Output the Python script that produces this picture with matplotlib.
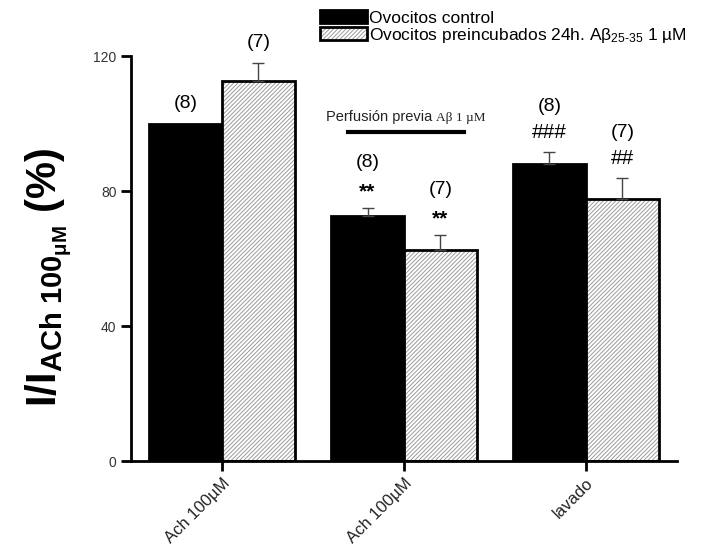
import numpy as np
import matplotlib.pyplot as plt
from matplotlib.patches import Patch
from matplotlib.offsetbox import TextArea, HPacker, AnnotationBbox

plt.rcParams['font.family'] = 'Liberation Sans'
plt.rcParams['mathtext.fontset'] = 'custom'
plt.rcParams['mathtext.rm'] = 'Liberation Sans'
plt.rcParams['mathtext.bf'] = 'Liberation Sans:bold'
plt.rcParams['mathtext.it'] = 'Liberation Sans:italic'
plt.rcParams['hatch.linewidth'] = 0.7

# Data: mean response (% of ACh 100 uM) and SEM
groups = ['Ach 100µM', 'Ach 100µM', 'lavado']
control_mean = [100.0, 72.5, 88.0]
control_sem = [0.0, 2.5, 3.5]
preinc_mean = [112.5, 62.5, 77.5]
preinc_sem = [5.4, 4.5, 6.3]
control_n = ['(8)', '(8)', '(8)']
preinc_n = ['(7)', '(7)', '(7)']
control_sig = ['', '**', '###']
preinc_sig = ['', '**', '##']

x = np.arange(len(groups))
w = 0.4
hatch_col = '#9a9a9a'

fig = plt.figure(figsize=(7.08, 5.59), dpi=100)
ax = fig.add_axes([0.185, 0.1753, 0.771, 0.7245])

# control bars
ax.bar(x - w / 2, control_mean, w, color='black', edgecolor='black', linewidth=2)
# pre-incubated bars: gray hatching with a separate black outline
ax.bar(x + w / 2, preinc_mean, w, color='white', edgecolor=hatch_col,
       hatch='////////', linewidth=0)
ax.bar(x + w / 2, preinc_mean, w, color='none', edgecolor='black', linewidth=2)

# upper error bars only
for xs, m, s in [(x - w / 2, control_mean, control_sem), (x + w / 2, preinc_mean, preinc_sem)]:
    for xi, mi, si in zip(xs, m, s):
        if si > 0:
            ax.errorbar(xi, mi, yerr=[[0], [si]], fmt='none', ecolor='#444444',
                        elinewidth=1, capsize=4, capthick=1)

# n and significance labels above bars
for xs, m, s, ns, sig in [(x - w / 2, control_mean, control_sem, control_n, control_sig),
                          (x + w / 2, preinc_mean, preinc_sem, preinc_n, preinc_sig)]:
    for xi, mi, si, ni, gi in zip(xs, m, s, ns, sig):
        top = mi + si
        if gi:
            star = '*' in gi
            ax.text(xi, top + (2.0 if star else 3.0), gi, ha='center', va='bottom',
                    fontsize=15, fontweight='bold' if star else 'normal')
            ax.text(xi, top + 11.0, ni, ha='center', va='bottom', fontsize=14)
        else:
            ax.text(xi, top + 3.5, ni, ha='center', va='bottom', fontsize=14)

# bracket over the pre-perfusion group
ax.plot([0.69, 1.33], [97.5, 97.5], color='black', lw=3, clip_on=False)
perf = HPacker(children=[TextArea('Perfusión previa',
                                  textprops=dict(fontsize=10.5, color='#222222')),
                         TextArea('Aβ 1 µM',
                                  textprops=dict(fontsize=9.5, color='#222222',
                                                 family='Liberation Serif'))],
               align='baseline', pad=0, sep=3)
ax.add_artist(AnnotationBbox(perf, (1.01, 100.0), frameon=False,
                             box_alignment=(0.5, 0.0), annotation_clip=False))

ax.set_xlim(-0.5, 2.5)
ax.set_ylim(0, 120)
ax.set_yticks([0, 40, 80, 120])
ax.set_xticks(x)
ax.set_xticklabels(groups, rotation=45, ha='right', rotation_mode='anchor',
                   fontsize=12, color='#222222')
ax.tick_params(axis='y', labelsize=10, labelcolor='#333333')
ax.tick_params(length=7, width=2, direction='out')

for side in ['top', 'right']:
    ax.spines[side].set_visible(False)
for side in ['left', 'bottom']:
    ax.spines[side].set_linewidth(2)

ax.set_ylabel(r'$\mathbf{I/I_{ACh\ 100_{\mu M}}\ (\%)}$', fontsize=30)
ax.yaxis.set_label_coords(-0.105, 0.455)

handles = [Patch(facecolor='black', edgecolor='black', linewidth=2),
           (Patch(facecolor='white', edgecolor=hatch_col, hatch='////////', linewidth=0),
            Patch(facecolor='none', edgecolor='black', linewidth=2))]
leg = fig.legend(handles,
                 ['Ovocitos control',
                  r'Ovocitos preincubados 24h. A$\mathrm{\beta}_{25\text{-}35}$ 1 µM'],
                 loc='upper left', bbox_to_anchor=(0.437, 1.0), frameon=False,
                 fontsize=12.5, handlelength=2.7, handleheight=0.75,
                 handletextpad=0.12, labelspacing=0.0, borderaxespad=0.2)

fig.savefig('out.png', dpi=100)
